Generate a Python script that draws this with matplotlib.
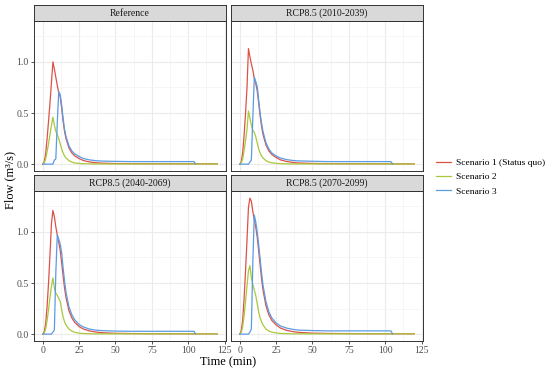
import matplotlib
matplotlib.use("Agg")
import matplotlib.pyplot as plt
from matplotlib.lines import Line2D
from matplotlib.ticker import MultipleLocator

plt.rcParams['font.family'] = ['Liberation Serif', 'DejaVu Serif']

# time in minutes (blue series ends at 105)
t = [0, 1, 2, 3, 4, 5, 6, 7, 8, 9, 10, 11, 12, 13, 14, 15, 16, 18, 20, 22,
     25, 28, 32, 36, 40, 50, 60, 80, 104, 105, 120]

panels = ["Reference", "RCP8.5 (2010-2039)", "RCP8.5 (2040-2069)", "RCP8.5 (2070-2099)"]
scenarios = ["Scenario 1 (Status quo)", "Scenario 2", "Scenario 3"]

ref_s1 = [0, 0.02, 0.10, 0.25, 0.42, 0.60, 0.80, 1.00, 0.93, 0.85, 0.77, 0.70, 0.66, 0.55, 0.42, 0.32,
          0.25, 0.16, 0.11, 0.08, 0.055, 0.035, 0.022, 0.015, 0.010, 0.006, 0.005, 0.004, 0.003, 0.003, 0.003]
ref_s2 = [0, 0.01, 0.05, 0.12, 0.20, 0.29, 0.38, 0.46, 0.38, 0.32, 0.29, 0.25, 0.20, 0.15, 0.11, 0.08,
          0.06, 0.035, 0.02, 0.012, 0.007, 0.004, 0.003, 0.002, 0.002, 0.002, 0.002, 0.002, 0.002, 0.002, 0.002]
ref_s3 = [0, 0, 0, 0, 0, 0, 0, 0, 0.04, 0.05, 0.40, 0.71, 0.68, 0.58, 0.45, 0.34,
          0.27, 0.18, 0.13, 0.10, 0.075, 0.055, 0.042, 0.035, 0.030, 0.027, 0.025, 0.025, 0.025, 0.003]

p1_s1 = [0, 0.02, 0.11, 0.28, 0.50, 0.75, 1.13, 1.05, 0.98, 0.92, 0.84, 0.79, 0.72, 0.60, 0.48, 0.37,
         0.29, 0.19, 0.13, 0.095, 0.065, 0.042, 0.027, 0.018, 0.012, 0.007, 0.005, 0.004, 0.003, 0.003, 0.003]
p1_s2 = [0, 0.01, 0.05, 0.13, 0.23, 0.34, 0.52, 0.45, 0.38, 0.33, 0.31, 0.27, 0.21, 0.15, 0.11, 0.08,
         0.06, 0.035, 0.02, 0.013, 0.008, 0.005, 0.003, 0.002, 0.002, 0.002, 0.002, 0.002, 0.002, 0.002, 0.002]
p1_s3 = [0, 0, 0, 0, 0, 0, 0, 0.02, 0.04, 0.45, 0.85, 0.81, 0.76, 0.63, 0.50, 0.40,
         0.32, 0.21, 0.15, 0.11, 0.08, 0.06, 0.045, 0.037, 0.032, 0.028, 0.025, 0.025, 0.025, 0.003]

p2_s1 = [0, 0.02, 0.10, 0.27, 0.50, 0.78, 1.08, 1.21, 1.15, 1.05, 0.97, 0.90, 0.82, 0.70, 0.57, 0.45,
         0.36, 0.23, 0.16, 0.115, 0.075, 0.05, 0.032, 0.022, 0.015, 0.008, 0.006, 0.004, 0.003, 0.003, 0.003]
p2_s2 = [0, 0.01, 0.05, 0.13, 0.24, 0.36, 0.47, 0.55, 0.45, 0.40, 0.38, 0.35, 0.32, 0.24, 0.17, 0.12,
         0.09, 0.05, 0.03, 0.018, 0.01, 0.006, 0.004, 0.003, 0.003, 0.003, 0.003, 0.003, 0.003, 0.003, 0.003]
p2_s3 = [0, 0, 0, 0, 0, 0, 0, 0.02, 0.04, 0.60, 0.97, 0.93, 0.88, 0.80, 0.65, 0.52,
         0.41, 0.27, 0.19, 0.14, 0.095, 0.07, 0.05, 0.04, 0.035, 0.03, 0.028, 0.028, 0.028, 0.003]

p3_s1 = [0, 0.03, 0.13, 0.35, 0.62, 0.92, 1.24, 1.33, 1.30, 1.20, 1.12, 1.05, 0.95, 0.82, 0.68, 0.54,
         0.43, 0.28, 0.19, 0.135, 0.09, 0.06, 0.038, 0.026, 0.018, 0.01, 0.007, 0.005, 0.004, 0.004, 0.004]
p3_s2 = [0, 0.015, 0.07, 0.18, 0.32, 0.47, 0.62, 0.67, 0.55, 0.49, 0.43, 0.38, 0.30, 0.22, 0.16, 0.12,
         0.09, 0.05, 0.03, 0.02, 0.012, 0.007, 0.005, 0.003, 0.003, 0.003, 0.003, 0.003, 0.003, 0.003, 0.003]
p3_s3 = [0, 0, 0, 0, 0, 0, 0, 0.02, 0.05, 0.70, 1.165, 1.10, 1.00, 0.88, 0.74, 0.60,
         0.48, 0.32, 0.22, 0.16, 0.11, 0.08, 0.06, 0.048, 0.04, 0.035, 0.032, 0.032, 0.032, 0.003]

flows = [
    [ref_s1, ref_s2, ref_s3],
    [p1_s1, p1_s2, p1_s3],
    [p2_s1, p2_s2, p2_s3],
    [p3_s1, p3_s2, p3_s3],
]

colors = ['#DC5247', '#A9C83C', '#5B9BE2']

fig = plt.figure(figsize=(5.5, 3.7), dpi=100)

W, H = 550, 370
lefts = [34, 231, 34, 231]
tops = [21, 21, 191, 191]
pw, ph = 192, 150
sh = 16

for i, name in enumerate(panels):
    x0, y0 = lefts[i], tops[i]
    ax = fig.add_axes([x0 / W, 1 - (y0 + ph) / H, pw / W, ph / H])
    for j in range(3):
        vals = flows[i][j]
        ax.plot(t[:len(vals)], vals, color=colors[j], lw=0.9, zorder=3 + j)
    ax.set_xlim(-6, 126)
    ax.set_ylim(-0.067, 1.40)
    ax.xaxis.set_major_locator(MultipleLocator(25))
    ax.xaxis.set_minor_locator(MultipleLocator(12.5))
    ax.yaxis.set_major_locator(MultipleLocator(0.5))
    ax.yaxis.set_minor_locator(MultipleLocator(0.25))
    ax.grid(which='major', color='#EBEBEB', lw=0.8)
    ax.grid(which='minor', color='#F3F3F3', lw=0.5)
    ax.set_axisbelow(True)
    for s in ax.spines.values():
        s.set_color('#333333')
        s.set_linewidth(0.7)
    ax.tick_params(which='minor', length=0)
    ax.tick_params(which='major', length=2.5, width=0.6, color='#333333',
                   labelsize=7, labelcolor='#4D4D4D', pad=1.2)
    if i % 2 == 1:
        ax.tick_params(axis='y', length=0, labelleft=False)
    else:
        ax.set_yticks([0, 0.5, 1.0], ['0.0', '0.5', '1.0'])
    if i < 2:
        ax.tick_params(axis='x', length=0, labelbottom=False)
    else:
        ax.set_xticks([0, 25, 50, 75, 100, 125], ['0', '25', '50', '75', '100', '125'])

    sax = fig.add_axes([x0 / W, 1 - y0 / H, pw / W, sh / H])
    sax.set_facecolor('#D9D9D9')
    sax.set_xticks([])
    sax.set_yticks([])
    for s in sax.spines.values():
        s.set_color('#333333')
        s.set_linewidth(0.7)
    sax.text(0.5, 0.5, name, ha='center', va='center', fontsize=7,
             color='#1A1A1A', transform=sax.transAxes)

fig.text(228.5 / W, 1 - 362 / H, 'Time (min)', ha='center', va='center', fontsize=8.8)
fig.text(10 / W, 1 - 180 / H, 'Flow (m³/s)', ha='center', va='center',
         fontsize=8.8, rotation=90)

handles = [Line2D([0], [0], color=c, lw=0.9) for c in colors]
fig.legend(handles, scenarios, loc='center left', bbox_to_anchor=(436 / W, 1 - 177 / H),
           frameon=False, fontsize=6.8, handlelength=1.6, handletextpad=0.5,
           labelspacing=0.6, borderaxespad=0, borderpad=0)

fig.savefig('out.png', dpi=100)
